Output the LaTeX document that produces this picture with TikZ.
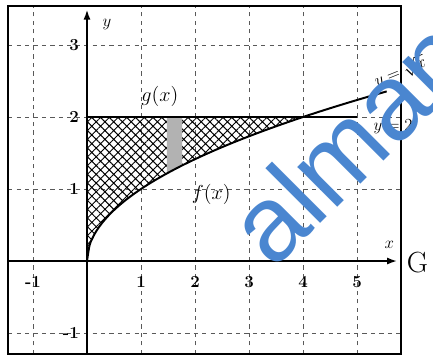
\documentclass[tikz,border=0pt]{standalone}
\usepackage{fontspec}
\newfontfamily\wmfont{Liberation Sans}
\usetikzlibrary{patterns.meta,arrows.meta}
\definecolor{wmblue}{RGB}{74,134,208}
\begin{document}
\begin{tikzpicture}[x=1.35cm,y=1.8cm,
  gridline/.style={gray!70!black,dashed,thin},
  axisline/.style={line width=1.2pt,-{Latex[length=7pt,width=5pt]}},
  ticklab/.style={font=\large\bfseries},
  graphline/.style={line width=1.4pt}]
  \useasboundingbox (-1.611,-1.347) rectangle (6.407,3.625);
  % grid
  \foreach \i in {-1,1,2,3,4,5}
    \draw[gridline] (\i,-1.29) -- (\i,3.54);
  \foreach \j in {-1,1,2,3}
    \draw[gridline] (-1.46,\j) -- (5.81,\j);
  % hatched area between the curves
  \fill[pattern={Hatch[angle=45,distance=4.4pt,line width=0.7pt]}]
    (0,0) -- plot[domain=0:4,samples=80] (\x,{sqrt(\x)}) -- (0,2) -- cycle;
  % strip
  \fill[gray!60] plot[domain=1.48:1.76,samples=6] (\x,{sqrt(\x)})
    -- (1.76,2) -- (1.48,2) -- cycle;
  % frame
  \draw[line width=1.3pt] (-1.46,-1.29) rectangle (5.81,3.54);
  % axes
  \draw[axisline] (-1.46,0) -- (5.74,0);
  \draw[axisline] (0,-1.29) -- (0,3.49);
  % f and g
  \draw[graphline,smooth] plot[domain=0:5.55,samples=120] (\x,{sqrt(\x)});
  \draw[graphline] (0,2) -- (5,2);
  % tick labels
  \node[ticklab] (xtm1) at (-1,-0.29) {-1};
  \foreach \i in {1,...,5}
    \node[ticklab] (xt\i) at (\i,-0.29) {\i};
  \foreach \j in {1,2,3}
    \node[ticklab,anchor=east] (yt\j) at (-0.06,\j) {\j};
  \node[ticklab,anchor=east] (ytm1) at (-0.06,-1) {-1};
  % axis names
  \node[font=\large] (ylab) at (0.37,3.28) {$y$};
  \node[font=\large] (xlab) at (5.6,0.22) {$x$};
  % function labels
  \node[font=\Large] (glab) at (1.35,2.28) {$g(x)$};
  \node[font=\Large] (flab) at (2.3,0.92) {$f(x)$};
  \node[font=\large,rotate=22] (sqrtlab) at (5.8,2.63) {$y=\sqrt{x}$};
  \node[font=\large] (twolab) at (5.67,1.87) {$y=2$};
  \node[font=\huge] (gmark) at (6.12,-0.02) {G};
  % watermark
  \node[text=wmblue,font=\wmfont\fontsize{76}{82}\selectfont,rotate=45,
    anchor=base west,inner sep=0pt] (wm) at (3.45,-0.14) {almanahj};
\end{tikzpicture}
\end{document}
